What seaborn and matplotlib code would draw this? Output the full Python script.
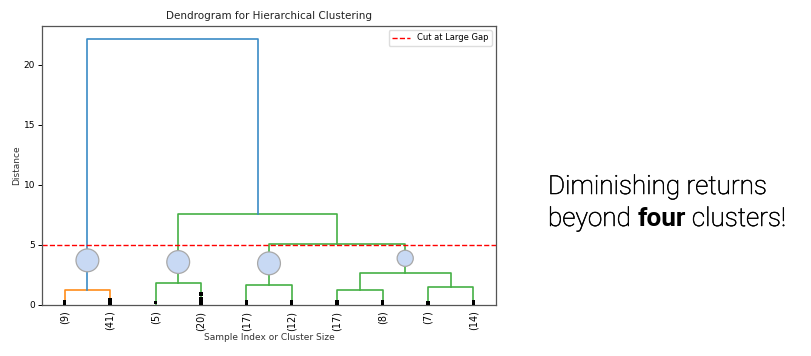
import numpy as np
import pandas as pd
import matplotlib
matplotlib.use("Agg")
import matplotlib.pyplot as plt
import matplotlib.patheffects as pe
import seaborn as sns

# truncated dendrogram: leaf cluster sizes and merge heights
leaf_sizes = [9, 41, 5, 20, 17, 12, 17, 8, 7, 14]
# merges: (left node, right node, height, colour); nodes 0-9 are leaves, 10+ are merges
merges = [
    (0, 1, 1.22, "C1"),     # 10
    (2, 3, 1.83, "C2"),     # 11
    (4, 5, 1.64, "C2"),     # 12
    (6, 7, 1.22, "C2"),     # 13
    (8, 9, 1.53, "C2"),     # 14
    (13, 14, 2.69, "C2"),   # 15
    (12, 15, 5.08, "C2"),   # 16
    (11, 16, 7.56, "C2"),   # 17
    (10, 17, 22.2, "C0"),   # 18
]
cut_height = 5.0

# circles drawn on the four clusters below the cut
circle_nodes = [10, 11, 12, 15]
circle_y = [3.72, 3.58, 3.47, 3.89]
circle_size = [270, 270, 270, 135]

# contracted-merge marks above each leaf
contract_marks = [[0.1, 0.3], [0.1, 0.25, 0.45], [0.2], [0.1, 0.3, 0.5, 0.9],
                  [0.1, 0.3], [0.1, 0.3], [0.1, 0.3], [0.1, 0.3], [0.15], [0.1, 0.3]]

# node positions the way scipy lays them out (leaves at 5, 15, 25, ...)
node_x = [5 + 10 * i for i in range(len(leaf_sizes))]
node_h = [0.0] * len(leaf_sizes)
rows = []
for k, (a, b, h, col) in enumerate(merges):
    xa, xb = node_x[a], node_x[b]
    for px, py in [(xa, node_h[a]), (xa, h), (xb, h), (xb, node_h[b])]:
        rows.append({"link": k, "x": px, "y": py, "color": col})
    node_x.append((xa + xb) / 2)
    node_h.append(h)
links = pd.DataFrame(rows)

circles = pd.DataFrame({"x": [node_x[n] for n in circle_nodes], "y": circle_y, "s": circle_size})
marks = pd.DataFrame([{"x": node_x[i], "y": y} for i, ys in enumerate(contract_marks) for y in ys])

palette = {"C0": "#3b8bc6", "C1": "#ff8c1a", "C2": "#45b045"}

fig = plt.figure(figsize=(8.11, 3.56), dpi=100)
ax = fig.add_axes([0.0518, 0.1433, 0.5598, 0.7837])

for k, g in links.groupby("link"):
    ax.plot(g["x"], g["y"], color=palette[g["color"].iloc[0]], lw=1.2)

sns.scatterplot(data=marks, x="x", y="y", marker="s", s=6, color="black",
                edgecolor="none", ax=ax, legend=False, zorder=3)
sns.scatterplot(data=circles, x="x", y="y", size="s", sizes=(135, 270),
                color="#c8d9f4", edgecolor="#a8a8a8", linewidth=0.9, ax=ax,
                legend=False, zorder=4)

ax.axhline(cut_height, color="red", ls="--", lw=1.0, label="Cut at Large Gap")

ax.set_xlim(0, 10 * len(leaf_sizes))
ax.set_ylim(0, 23.25)
ax.set_xticks(node_x[:len(leaf_sizes)])
ax.set_xticklabels([f"({n})" for n in leaf_sizes], rotation=90, fontsize=7)
ax.set_yticks([0, 5, 10, 15, 20])
ax.tick_params(axis="y", labelsize=6.5, length=3, width=0.7, pad=2)
ax.tick_params(axis="x", length=0, pad=4)
for sp in ax.spines.values():
    sp.set_color("#555555")
    sp.set_linewidth(0.9)

ax.set_title("Dendrogram for Hierarchical Clustering", fontsize=7.5, pad=5, color="#222222")
ax.set_xlabel("Sample Index or Cluster Size", fontsize=6.5, labelpad=2, color="#333333")
ax.set_ylabel("Distance", fontsize=6.5, labelpad=1.5, color="#333333")
ax.legend(loc="upper right", fontsize=6, handlelength=2.2, framealpha=1, edgecolor="#dddddd")

# side note
fs = 18.8
x0 = 548 / 811
darken = [pe.withStroke(linewidth=0.4, foreground="black")]
fig.text(x0, 1 - 194 / 356, "Diminishing returns", fontsize=fs, family="Roboto",
         fontweight="light", color="black", path_effects=darken)
y2 = 1 - 226 / 356
fig.canvas.draw()
r = fig.canvas.get_renderer()
x = x0
for txt, w in [("beyond ", "light"), ("four", "bold"), (" clusters!", "light")]:
    t = fig.text(x, y2, txt, fontsize=fs, family="Roboto", fontweight=w, color="black",
                 path_effects=darken if w == "light" else None)
    bb = t.get_window_extent(renderer=r)
    x += bb.width / fig.bbox.width

fig.savefig("out.png", dpi=100)
